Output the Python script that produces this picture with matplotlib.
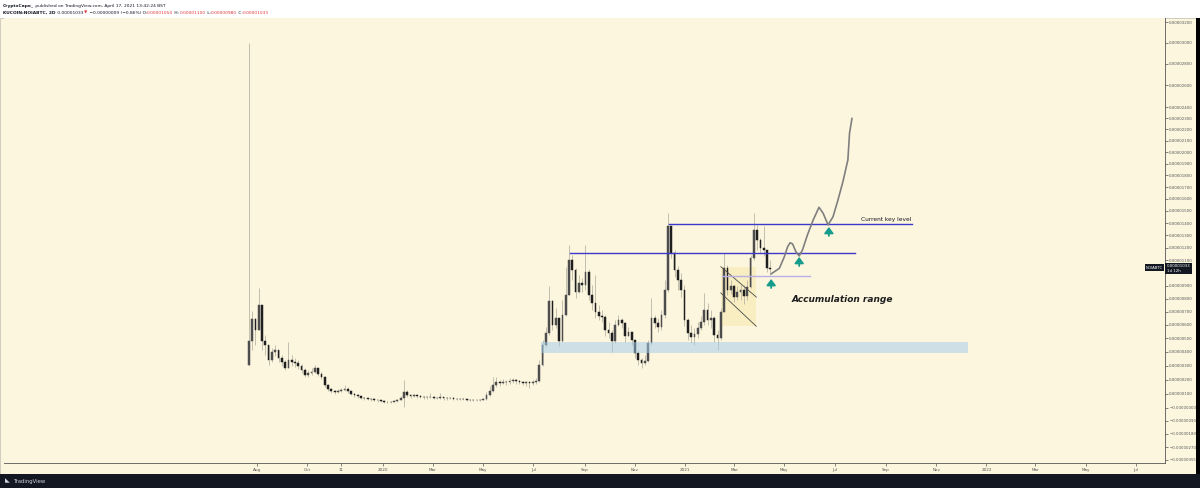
import numpy as np
import pandas as pd
import matplotlib
matplotlib.use("Agg")
import matplotlib.pyplot as plt
from matplotlib.patches import Rectangle

# NOIA/BTC price, 4-day candles, values in 1e-8 BTC
candle_start = "2019-07-22"
first_open = 305
closes = [480, 645, 563, 752, 480, 451, 341, 400, 415, 356,
          327, 283, 341, 327, 319, 298, 269, 233, 247, 254,
          283, 240, 218, 161, 133, 119, 112, 115, 126, 133,
          119, 97, 90, 80, 69, 66, 62, 59, 55, 52,
          45, 41, 41, 41, 45, 55, 69, 112, 90, 83,
          87, 80, 76, 73, 73, 76, 69, 69, 73, 66,
          66, 69, 62, 62, 62, 59, 55, 55, 55, 55,
          55, 59, 90, 119, 161, 183, 176, 186, 183, 190,
          197, 190, 183, 176, 179, 176, 183, 190, 305, 451,
          540, 783, 600, 652, 481, 675, 828, 1102, 1023, 852,
          920, 905, 1008, 828, 767, 698, 668, 660, 563, 540,
          481, 600, 638, 615, 518, 548, 488, 393, 341, 319,
          334, 466, 652, 615, 585, 675, 867, 1376, 1158, 1023,
          945, 867, 638, 540, 510, 533, 578, 623, 714, 638,
          652, 525, 503, 698, 1039, 867, 898, 812, 852, 867,
          820, 890, 1118, 1343, 1262, 1198, 1182, 1039, 1033]
highs = [3000, 705, 652, 882, 752, 525, 451, 430, 451, 415,
         378, 341, 473, 378, 356, 341, 312, 283, 269, 283,
         305, 283, 254, 226, 168, 140, 126, 133, 140, 161,
         147, 119, 104, 97, 83, 76, 72, 69, 66, 62,
         55, 52, 50, 48, 52, 62, 83, 197, 126, 97,
         97, 90, 87, 83, 80, 104, 80, 78, 104, 76,
         73, 76, 73, 69, 69, 66, 62, 62, 62, 62,
         62, 69, 112, 154, 218, 218, 197, 204, 197, 211,
         211, 204, 197, 190, 190, 190, 197, 211, 341, 488,
         585, 897, 790, 729, 652, 790, 1047, 1222, 1142, 1040,
         984, 960, 1222, 1031, 905, 984, 752, 714, 675, 623,
         563, 638, 675, 652, 623, 585, 548, 488, 415, 356,
         378, 488, 805, 675, 652, 714, 945, 1483, 1376, 1182,
         1054, 1000, 905, 652, 600, 578, 623, 668, 844, 767,
         714, 668, 563, 729, 1158, 1062, 945, 905, 898, 905,
         905, 945, 1142, 1483, 1385, 1278, 1376, 1182, 1100]
lows = [298, 415, 451, 560, 415, 378, 305, 327, 371, 327,
        298, 269, 283, 298, 290, 276, 247, 218, 218, 233,
        247, 226, 204, 147, 119, 104, 97, 104, 112, 119,
        104, 90, 76, 69, 62, 55, 55, 48, 45, 41,
        38, 34, 34, 34, 38, 41, 52, 6, 76, 69,
        76, 69, 66, 62, 62, 66, 59, 59, 62, 55,
        55, 59, 52, 52, 55, 52, 48, 48, 48, 45,
        48, 52, 55, 83, 112, 147, 154, 168, 161, 168,
        176, 168, 168, 161, 154, 140, 161, 168, 183, 298,
        437, 525, 563, 578, 444, 473, 668, 828, 945, 805,
        840, 852, 867, 790, 714, 652, 638, 623, 518, 503,
        400, 466, 593, 578, 473, 518, 451, 356, 305, 283,
        305, 327, 451, 578, 548, 563, 652, 852, 1118, 968,
        867, 812, 593, 488, 466, 451, 503, 563, 600, 600,
        578, 473, 415, 488, 698, 828, 836, 775, 790, 790,
        760, 790, 882, 1102, 1182, 1158, 1134, 1008, 980]

# projected path drawn by the author
proj_dates = ["2021-04-15", "2021-04-25", "2021-05-01", "2021-05-05", "2021-05-08",
              "2021-05-11", "2021-05-15", "2021-05-19", "2021-05-23", "2021-05-29",
              "2021-06-05", "2021-06-12", "2021-06-17", "2021-06-23", "2021-06-29",
              "2021-07-05", "2021-07-11", "2021-07-17", "2021-07-19", "2021-07-22"]
proj_values = [992, 1036, 1128, 1208, 1240, 1230, 1168, 1134, 1182, 1303,
               1426, 1530, 1481, 1385, 1452, 1591, 1746, 1932, 2166, 2300]

# drawn levels: (value, start, end)
key_level = (1390, "2020-12-12", "2021-10-03")
mid_level = (1156, "2020-08-14", "2021-07-26")
support_level = (976, "2021-02-15", "2021-06-01")
accum_box = (390, 470, "2020-07-10", "2021-12-10")
channel_box = (590, 1049, "2021-02-13", "2021-03-28")
channel_upper = (1049, 812)
channel_lower = (844, 590)
arrow_dates = ["2021-04-15", "2021-05-19", "2021-06-24"]
arrow_tails = [882, 1054, 1295]
arrow_tips = [952, 1126, 1368]

ytick_values = [3200, 3000, 2800, 2600, 2400, 2300, 2200, 2100, 2000, 1900, 1800,
                1700, 1600, 1500, 1400, 1300, 1200, 1100, 900, 800, 700, 600, 500,
                400, 300, 200, 100, 0, -90, -180, -270, -355]
ytick_labels = ["0.%08d" % v if v > 0 else "\u22120.%08d" % abs(v) for v in ytick_values]
xtick_dates = ["2019-08-01", "2019-10-01", "2019-11-11", "2020-01-01", "2020-03-01",
               "2020-05-01", "2020-07-01", "2020-09-01", "2020-11-01", "2021-01-01",
               "2021-03-01", "2021-05-01", "2021-07-01", "2021-09-01", "2021-11-01",
               "2022-01-01", "2022-03-01", "2022-05-01", "2022-07-01"]
xtick_labels = ["Aug", "Oct", "11", "2020", "Mar", "May", "Jul", "Sep", "Nov", "2021",
                "Mar", "May", "Jul", "Sep", "Nov", "2022", "Mar", "May", "Jul"]

BG = "#fcf6df"
DARK = "#131722"
BLUE = "#3a39c9"
TEAL = "#169c8c"
S = 1e-8

fig = plt.figure(figsize=(12, 4.88), dpi=100)
fig.patch.set_facecolor("white")
W, H = 1200.0, 488.0

# chart background, footer and right border
fig.patches.append(Rectangle((0, 14 / H), 1196 / W, (H - 17.5 - 14) / H,
                             transform=fig.transFigure, fc=BG, ec="#c9c6b8", lw=0.6, zorder=-10))
fig.patches.append(Rectangle((0, 0), 1, 14 / H, transform=fig.transFigure,
                             fc=DARK, ec="none", zorder=-9))
fig.patches.append(Rectangle((1196 / W, 14 / H), 4 / W, (H - 17.5 - 14) / H,
                             transform=fig.transFigure, fc="black", ec="none", zorder=-9))

ax = fig.add_axes([4 / W, 1 - 462.7 / H, (1165 - 4) / W, (462.7 - 18) / H])
ax.set_facecolor(BG)

OFFSET = 8000 * S
ax.set_yscale("function", functions=(lambda y: np.log(np.maximum(y + OFFSET, 1e-12)),
                                     lambda z: np.exp(z) - OFFSET))

dates = pd.date_range(candle_start, periods=len(closes), freq="4D")
c = np.array(closes) * S
o = np.array([first_open] + closes[:-1]) * S
h = np.array(highs) * S
l = np.array(lows) * S
up = c >= o

# accumulation zone + falling channel box
ax.fill_between(pd.to_datetime(accum_box[2:]), accum_box[0] * S, accum_box[1] * S,
                color="#a5cdeb", alpha=0.52, lw=0, zorder=4)
ax.fill_between(pd.to_datetime(channel_box[2:]), channel_box[0] * S, channel_box[1] * S,
                color="#f5e6a0", alpha=0.45, lw=0, zorder=1)

ax.vlines(dates, l, h, color="#b3b0a2", lw=0.55, zorder=2)
body_colors = np.where(up, "#4d4d4d", "#1f1f1f")
ax.bar(dates, np.abs(c - o), bottom=np.minimum(o, c), width=2.1,
       color=body_colors, edgecolor=body_colors, linewidth=0.35, zorder=3)

# channel lines
cb = pd.to_datetime(channel_box[2:])
ax.plot(cb, np.array(channel_upper) * S, color="#4a4a4a", lw=0.6, zorder=5)
ax.plot(cb, np.array(channel_lower) * S, color="#4a4a4a", lw=0.6, zorder=5)

# horizontal levels
for lvl, col in [(key_level, BLUE), (mid_level, BLUE), (support_level, "#b9b0e8")]:
    ax.plot(pd.to_datetime(lvl[1:]), [lvl[0] * S] * 2, color=col, lw=1.0, zorder=6)

ax.plot(pd.to_datetime(proj_dates), np.array(proj_values) * S, color="#7f7f7f", lw=1.2,
        solid_joinstyle="round", solid_capstyle="round", zorder=6)

for d, t0, t1 in zip(pd.to_datetime(arrow_dates), arrow_tails, arrow_tips):
    ax.annotate("", xy=(d, t1 * S), xytext=(d, t0 * S),
                arrowprops=dict(arrowstyle="-|>,head_width=0.45,head_length=0.6",
                                color=TEAL, lw=1.3, mutation_scale=6, shrinkA=0, shrinkB=0),
                zorder=7)

ax.text(pd.Timestamp("2021-08-02"), 1405 * S, "Current key level", fontsize=4.2,
        color=DARK, ha="left", va="bottom", zorder=8)
ax.text(pd.Timestamp("2021-05-10"), 797 * S, "Accumulation range", fontsize=6.5,
        style="italic", weight="bold", color="#1e1e1e", ha="left", va="center", zorder=8)

ax.set_xlim(pd.Timestamp("2018-09-28 07:00"), pd.Timestamp("2022-08-05 08:00"))
ax.set_ylim(-374 * S, 3242 * S)

ax.set_xticks(pd.to_datetime(xtick_dates))
ax.set_xticklabels(xtick_labels)
ax.set_yticks([v * S for v in ytick_values])
ax.set_yticklabels(ytick_labels)
ax.minorticks_off()
ax.yaxis.tick_right()
ax.tick_params(axis="x", length=2, width=0.5, pad=1.5, labelsize=3, colors="#555555")
ax.tick_params(axis="y", length=2, width=0.5, pad=1, labelsize=2.8, colors="#555555")
for side in ["top", "left"]:
    ax.spines[side].set_visible(False)
for side in ["bottom", "right"]:
    ax.spines[side].set_color("#555555")
    ax.spines[side].set_linewidth(0.6)

# current price tags
ax.annotate("0.00001033\n1d 12h", xy=(1, closes[-1] * S), xycoords=("axes fraction", "data"),
            xytext=(1.2, 0), textcoords="offset points", fontsize=2.8, color="white",
            ha="left", va="center", annotation_clip=False, zorder=9,
            bbox=dict(boxstyle="square,pad=0.35", fc=DARK, ec="none"))
ax.annotate("NOIABTC", xy=(1, closes[-1] * S), xycoords=("axes fraction", "data"),
            xytext=(-1.5, 0.8), textcoords="offset points", fontsize=2.8, color="white",
            ha="right", va="center", annotation_clip=False, zorder=9,
            bbox=dict(boxstyle="square,pad=0.3", fc=DARK, ec="none"))

# header lines built from coloured pieces
RED = "#e0393e"
header = [
    [("CryptoCapo_", DARK, "bold"),
     (" published on TradingView.com, April 17, 2021 13:42:24 BST", DARK, "normal")],
    [("KUCOIN:NOIABTC, 2D", DARK, "bold"), (" 0.00001033 ", DARK, "normal"), ("\u25bc", RED, "normal"),
     (" \u22120.00000009 (\u22120.86%) O:", DARK, "normal"), ("0.00001050", RED, "normal"),
     (" H:", DARK, "normal"), ("0.00001100", RED, "normal"), (" L:", DARK, "normal"),
     ("0.00000980", RED, "normal"), (" C:", DARK, "normal"), ("0.00001033", RED, "normal")],
]
for row, y in zip(header, [1 - 7.5 / H, 1 - 14.5 / H]):
    prev = None
    for txt, col, wt in row:
        if prev is None:
            prev = fig.text(3 / W, y, txt, fontsize=3.2, color=col, weight=wt, va="bottom")
        else:
            prev = ax.annotate(txt, xy=(1, 0), xycoords=prev, fontsize=3.2, color=col,
                               weight=wt, va="bottom", ha="left", annotation_clip=False)

fig.text(5 / W, 7 / H, "\u25e3", fontsize=4.5, color="#d1d4dc", va="center")
fig.text(14 / W, 7 / H, "TradingView", fontsize=3.8, color="#d1d4dc", va="center")

fig.savefig("out.png", dpi=100)
